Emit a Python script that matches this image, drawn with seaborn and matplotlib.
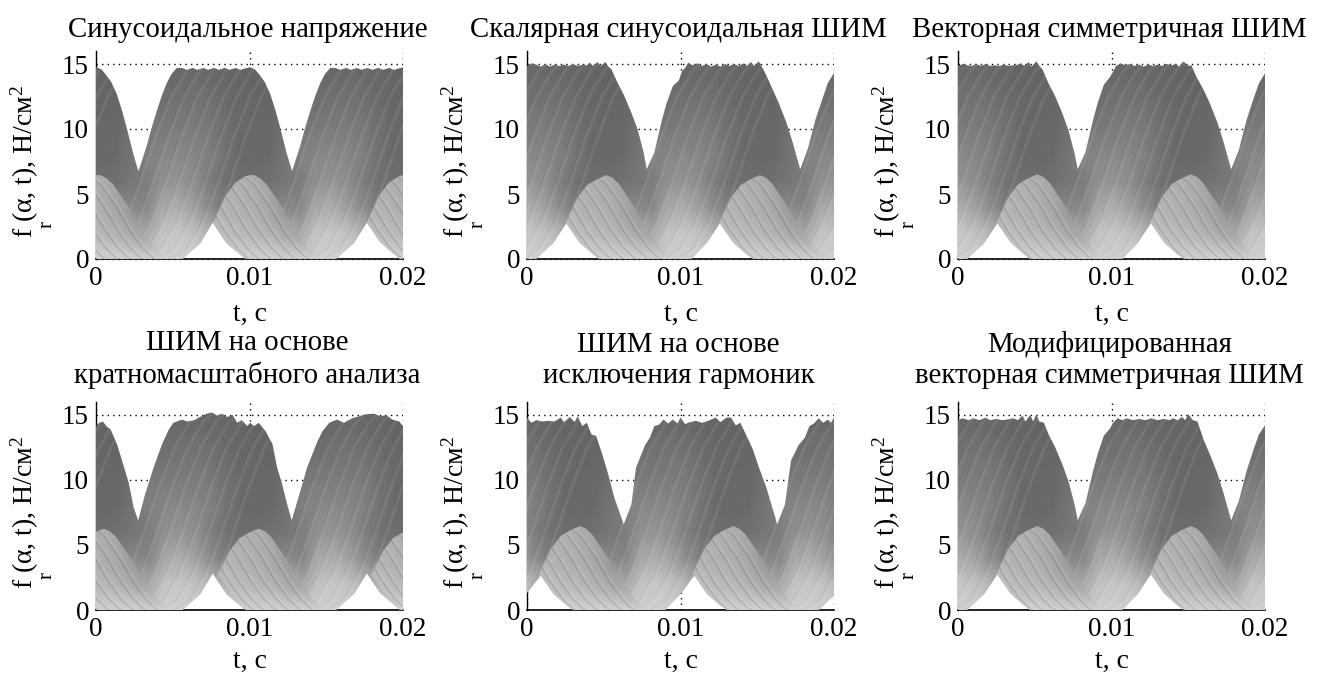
import matplotlib
matplotlib.use("Agg")
import matplotlib.pyplot as plt
from matplotlib.patches import Polygon
import numpy as np
import seaborn as sns

titles = [
    "Синусоидальное напряжение",
    "Скалярная синусоидальная ШИМ",
    "Векторная симметричная ШИМ",
    "ШИМ на основе\nкратномасштабного анализа",
    "ШИМ на основе\nисключения гармоник",
    "Модифицированная\nвекторная симметричная ШИМ",
]

# time axis is kept in ms, tick labels are in seconds
upper_t_1 = [0, .35, .7, 1, 1.35, 1.7, 2, 2.43, 2.76, 3, 3.3, 3.6, 3.96, 4.3, 4.6, 4.9, 5.26, 5.6, 5.9, 6.3, 6.6, 7, 7.3, 7.7, 8, 8.4, 8.7, 9.1, 9.4, 10,
             10.35, 10.7, 11, 11.35, 11.7, 12, 12.43, 12.78, 13, 13.3, 13.6, 13.96, 14.3, 14.6, 14.9, 15.26, 15.6, 15.9, 16.3, 16.6, 17, 17.3, 17.7, 18, 18.4, 18.7, 19.1, 19.4, 20]
upper_y_1 = [14.75, 14.6, 14.1, 13.6, 12.7, 11.4, 10.1, 8.1, 6.75, 7.6, 8.7, 10, 11.4, 12.6, 13.5, 14.2, 14.7, 14.7, 14.55, 14.7, 14.55, 14.7, 14.55, 14.7, 14.55, 14.7, 14.55, 14.7, 14.55, 14.75,
             14.6, 14.1, 13.6, 12.7, 11.4, 10.1, 8.1, 6.75, 7.6, 8.7, 10, 11.4, 12.6, 13.5, 14.2, 14.7, 14.7, 14.55, 14.7, 14.55, 14.7, 14.55, 14.7, 14.55, 14.7, 14.55, 14.7, 14.55, 14.75]

upper_t_2 = [0, .3, .6, .9, 1.2, 1.5, 1.8, 2.1, 2.4, 2.7, 3, 3.3, 3.6, 3.9, 4.1, 4.3, 4.6, 4.8, 5.1, 5.3, 5.5, 5.9, 6.3, 6.8, 7.2, 7.6, 7.8,
             8.3, 8.8, 9.1, 9.5, 9.9, 10.1, 10.3, 10.5, 10.8, 11.1, 11.4, 11.7, 12, 12.3, 12.6, 12.9, 13.2, 13.5, 13.8, 14.1, 14.3, 14.6, 14.8, 15.1, 15.3, 15.6,
             16, 16.4, 16.9, 17.3, 17.8, 18.3, 18.8, 19.3, 19.6, 20]
upper_y_2 = [14.85, 15.05, 14.95, 14.8, 15, 14.8, 14.95, 14.85, 14.95, 14.85, 15, 14.85, 14.95, 14.9, 15.1, 14.85, 15.15, 14.85, 15.15, 14.8, 14.6, 13.55, 12.65, 11.25, 10, 8.2, 6.9,
             8.2, 10.75, 12, 13.3, 13.75, 14.45, 14.7, 15.1, 14.9, 15.05, 14.85, 15, 14.8, 14.95, 14.8, 15, 14.85, 15, 14.85, 15.05, 14.85, 15.15, 14.85, 15.2, 14.8, 14.1,
             13.05, 12, 10.5, 9, 6.9, 8.5, 10.75, 12.5, 13.55, 14.3]

upper_t_3 = [0, .3, .6, .9, 1.2, 1.5, 1.8, 2.1, 2.4, 2.7, 3, 3.3, 3.6, 3.9, 4.1, 4.3, 4.6, 4.8, 5.1, 5.3, 5.5, 5.9, 6.3, 6.8, 7.2, 7.6, 7.8,
             8.3, 8.8, 9.1, 9.5, 9.9, 10.1, 10.3, 10.6, 10.9, 11.2, 11.5, 11.8, 12.1, 12.4, 12.7, 13, 13.3, 13.6, 13.9, 14.2, 14.4, 14.7, 15, 15.2, 15.5,
             16, 16.4, 16.9, 17.3, 17.8, 18.3, 18.8, 19.3, 19.6, 20]
upper_y_3 = [14.85, 15, 14.9, 14.85, 15, 14.85, 15, 14.85, 14.9, 14.85, 14.95, 14.85, 14.9, 14.95, 15.05, 14.85, 15.15, 14.8, 15.2, 14.85, 14.6, 13.5, 12.6, 11.2, 9.9, 8.1, 6.9,
             8.2, 10.7, 12, 13.4, 14, 14.4, 14.85, 15.05, 14.9, 15, 14.85, 14.95, 14.8, 14.95, 14.85, 14.95, 14.85, 15, 14.9, 15, 14.8, 15.2, 14.85, 14.9, 14.1,
             13, 12, 10.5, 9, 6.9, 8.4, 10.7, 12.5, 13.5, 14.3]

upper_t_4 = [0, .2, .45, .7, .95, 1.37, 1.8, 2.13, 2.45, 2.75, 3.2, 3.75, 4.3, 4.75, 5.05, 5.6, 5.95, 6.4, 6.7, 7.1, 7.55, 7.9, 8.2, 8.55, 8.9, 9.2, 9.5, 9.85, 10.05, 10.3, 10.6,
             11.05, 11.5, 11.8, 12.1, 12.45, 12.75, 13.3, 13.75, 14.4, 14.75, 15.2, 15.7, 16.15, 16.7, 17, 17.55, 18.1, 18.55, 18.9, 19.3, 19.75, 20]
upper_y_4 = [14.15, 14.4, 14.5, 14.1, 13.9, 12.75, 11.1, 9.8, 7.9, 6.9, 8.9, 10.95, 12.75, 13.9, 14.4, 14.65, 14.5, 14.6, 14.8, 15.05, 15.2, 14.95, 15.1, 14.85, 15, 14.4, 14.6, 14.15, 14.4, 14.15, 14.4,
             13.75, 12.75, 10.95, 9.8, 8.15, 6.9, 9.1, 10.95, 12.9, 13.75, 14.4, 14.65, 14.4, 14.75, 14.85, 15.05, 15.1, 14.9, 15, 14.65, 14.5, 14.15]

upper_t_5 = [0, .3, .6, 1, 1.4, 1.8, 2.2, 2.4, 2.8, 3.1, 3.3, 3.6, 3.9, 4.2, 4.5, 4.9, 5.3, 5.7, 6.3, 6.8, 7.1, 7.7, 8, 8.3, 8.6, 8.9, 9.2, 9.5, 9.8, 10, 10.3, 10.6,
             11, 11.4, 11.8, 12.3, 12.6, 13, 13.3, 13.6, 13.9, 14.3, 14.7, 15.1, 15.6, 16.3, 16.8, 17.2, 17.7, 18.1, 18.4, 18.7, 19, 19.3, 19.6, 19.8, 20]
upper_y_5 = [14.8, 14.4, 14.6, 14.5, 14.55, 14.5, 14.8, 14.45, 14.85, 14.45, 14.9, 14.15, 14.4, 13.5, 13.4, 12, 10.4, 8.6, 6.6, 8.1, 10.95, 12.7, 13.25, 14.15, 14.25, 14.65, 14.35, 14.65, 14.35, 14.8, 14.3, 14.45,
             14.55, 14.4, 14.55, 14.8, 14.45, 14.8, 14.8, 14.2, 14.4, 13.4, 12.4, 11, 9.4, 6.6, 8.1, 11.5, 12.7, 13.25, 14.15, 14.35, 14.75, 14.4, 14.65, 14.4, 14.8]

upper_t_6 = [0, .3, .7, 1, 1.4, 1.8, 2.1, 2.5, 2.9, 3.2, 3.6, 3.9, 4.2, 4.4, 4.7, 4.9, 5.1, 5.3, 5.6, 5.9, 6.3, 6.8, 7.2, 7.6, 7.8,
             8.3, 8.8, 9.1, 9.5, 9.9, 10.1, 10.4, 10.7, 11, 11.4, 11.8, 12.2, 12.6, 13, 13.4, 13.8, 14, 14.3, 14.6, 14.8, 15, 15.3, 15.6,
             16, 16.4, 16.9, 17.3, 17.8, 18.3, 18.8, 19.3, 19.6, 20]
upper_y_6 = [14.6, 14.75, 14.6, 14.75, 14.6, 14.8, 14.6, 14.7, 14.6, 14.65, 14.75, 14.6, 14.95, 14.5, 15, 14.5, 15.05, 14.5, 14.4, 13.5, 12.6, 11.2, 9.9, 8.1, 6.9,
             8.2, 10.7, 12, 13.4, 13.95, 14.4, 14.75, 14.6, 14.75, 14.6, 14.7, 14.6, 14.75, 14.6, 14.7, 14.6, 14.75, 14.6, 14.85, 14.6, 15.05, 14.6, 14.5,
             13.1, 12, 10.5, 9, 6.9, 8.4, 10.7, 12.5, 13.5, 14.2]

# lower edge of the surface (white triangles)
lower_t_a = [0, 5.65, 6.8, 7.6, 8.5, 9.6, 9.8, 15.65, 16.8, 17.65, 18.5, 19.8, 20]
lower_y_a = [0, 0, 1.2, 2.8, 1.2, .1, 0, 0, 1.2, 2.8, 1.3, 0, 0]
lower_t_b = [0, .6, 1.7, 2.57, 3.5, 4.6, 4.75, 10.7, 11.7, 12.57, 13.6, 14.7, 14.85, 20]
lower_y_b = [0, 0, 1.2, 2.75, 1.2, .1, 0, 0, 1.2, 2.75, 1.2, .1, 0, 0]
lower_t_c = [0, .95, 2, 3.1, 3.25, 9, 10, 10.95, 12, 13.1, 13.25, 19, 20]
lower_y_c = [1.3, 2.7, 1.2, .1, 0, 0, 1.2, 2.7, 1.2, .1, 0, 0, 1.1]

# light lobe outline, t relative to its peak
bump_t = [-2.65, -1.9, -1.25, -.6, -.3, 0, .4, .8, 1.8, 2.67, 3.54, 4.2, 4.4, -.45, -.9, -1.75]
bump_y_smooth = [2.8, 4.8, 5.85, 6.35, 6.45, 6.45, 6.2, 5.75, 4.05, 2.25, .85, .1, 0, 0, .35, 1.25]
bump_y_rough = [2.8, 4.7, 5.7, 6.15, 6.3, 6.45, 6.25, 5.8, 4.05, 2.25, .85, .1, 0, 0, .35, 1.25]

bump_peaks = [[.3, 10.3, 20.3], [-4.83, 5.17, 15.17], [-4.83, 5.17, 15.17],
              [.5, 10.6, 20.6], [3.45, 13.45], [-4.83, 5.17, 15.17]]
bump_peak_scale = [1, 1, 1.01, .97, 1, 1]

uppers = [(upper_t_1, upper_y_1), (upper_t_2, upper_y_2), (upper_t_3, upper_y_3),
          (upper_t_4, upper_y_4), (upper_t_5, upper_y_5), (upper_t_6, upper_y_6)]
lowers = [(lower_t_a, lower_y_a), (lower_t_b, lower_y_b), (lower_t_b, lower_y_b),
          (lower_t_a, lower_y_a), (lower_t_c, lower_y_c), (lower_t_b, lower_y_b)]

# grey levels: column = ms after the lobe peak, row = force level
grey_main = [
    [208, 208, 208, 208, 208, 208, 208, 208, 208, 208],
    [178, 178, 172, 168, 194, 198, 192, 180, 176, 176],
    [128, 132, 136, 134, 168, 172, 160, 140, 126, 120],
    [110, 112, 118, 125, 144, 148, 142, 126, 114, 110],
    [104, 106, 116, 128, 134, 136, 134, 128, 116, 106],
    [104, 104, 113, 122, 122, 124, 124, 122, 113, 106],
    [103, 103, 107, 111, 112, 114, 116, 113, 108, 103],
    [100, 100, 103, 103, 105, 105, 107, 105, 103, 101],
    [100, 100, 100, 100, 100, 100, 100, 100, 100, 100],
]
grey_lobe = [
    [208, 208, 208, 208, 208, 208, 208, 208, 208],
    [192, 190, 187, 184, 180, 172, 168, 168, 168],
    [182, 180, 177, 174, 167, 154, 144, 137, 137],
    [176, 176, 176, 173, 166, 152, 142, 132, 132],
    [176, 176, 176, 173, 166, 152, 142, 132, 132],
]

# stripe on the rising and on the falling flank, t relative to its start
rise_t = [0, 1, 2, 3, 4, 5, 6, 7]
rise_y = [0, .7, 2.8, 6, 9.5, 12.5, 14.5, 15.6]
fall_t = [0, .8, 1.8, 2.67, 3.54, 4.2, 4.4]
fall_y = [6.45, 5.75, 4.05, 2.25, .85, .1, 0]
rise_starts = [-10.4, -9.55, -8.7, -7.85, -7, -6.15, -5.3, -4.55]
fall_starts = [-.8, -1.6, -2.4, -3.2, -4, -4.65]

xticks = [0, 10, 20]
xticklabels = ["0", "0.01", "0.02"]
yticks = [0, 5, 10, 15]
# left edge of each panel in pixels
panel_left = [96, 527, 958, 96, 527, 958]
panel_bottom = [259, 259, 259, 610, 610, 610]
title_pad = [10, 10, 10, 14, 14, 14]
xlabel_pad = [8, 8, 8, 5, 5, 5]

sns.set_theme(style="white")
plt.rcParams["font.family"] = ["Liberation Serif"]
plt.rcParams["mathtext.fontset"] = "custom"
plt.rcParams["mathtext.rm"] = "Liberation Serif"
plt.rcParams["mathtext.default"] = "rm"

W, H = 1322, 677
fig = plt.figure(figsize=(W / 100, H / 100), dpi=100, facecolor="white")
ylabel = "f (α, t), Н/см$^{2}$"


def flank(ax, t, y, color, alpha, lw, clip):
    sns.lineplot(x=t, y=y, color=color, alpha=alpha, lw=lw, sort=False,
                 estimator=None, legend=False, ax=ax, zorder=3)
    ax.lines[-1].set_clip_path(clip)


for i, title in enumerate(titles):
    ax = fig.add_axes([panel_left[i] / W, 1 - panel_bottom[i] / H, 307 / W, 208 / H])
    ax.set_xlim(0, 20)
    ax.set_ylim(0, 16)

    # surface outline
    ut, uy = uppers[i]
    lt, ly = lowers[i]
    outline = list(zip(ut, uy)) + list(zip(lt, ly))[::-1]
    body = Polygon(outline, closed=True, transform=ax.transData, fc="none", ec="none")
    ax.add_patch(body)

    peaks = bump_peaks[i]
    main = np.tile(np.array(grey_main), (1, 4))
    im = ax.imshow(main, cmap="gray", vmin=0, vmax=255, origin="lower", aspect="auto",
                   interpolation="bilinear", zorder=2,
                   extent=[peaks[0] - 10.5, peaks[0] + 29.5, -1, 17])
    im.set_clip_path(body)

    for s in rise_starts:
        for p in [-10, 0, 10, 20, 30]:
            t0 = np.array(rise_t) + peaks[0] + s + p
            flank(ax, t0, rise_y, "white", .07, 2.6, body)
            flank(ax, t0 - .14, rise_y, "black", .035, 1.6, body)

    # light lobes lie over the dark surface
    heights = bump_y_smooth if i == 0 else bump_y_rough
    for p in peaks:
        pts = [(p + a, b * bump_peak_scale[i]) for a, b in zip(bump_t, heights)]
        lobe = Polygon(pts, closed=True, transform=ax.transData, fc="none", ec="none", zorder=4)
        ax.add_patch(lobe)
        im2 = ax.imshow(np.array(grey_lobe), cmap="gray", vmin=0, vmax=255, origin="lower",
                        aspect="auto", interpolation="bilinear", zorder=4,
                        extent=[p - 3.5, p + 5.5, -.9, 7.9])
        im2.set_clip_path(lobe)
        for s in fall_starts:
            t0 = np.array(fall_t) + p + s
            flank(ax, t0, fall_y, "black", .1, 1.3, lobe)
            flank(ax, t0 + .14, fall_y, "white", .09, 2, lobe)
            ax.lines[-1].set_zorder(5)
            ax.lines[-2].set_zorder(5)

    ax.set_xlim(0, 20)
    ax.set_ylim(0, 16)

    ax.set_axisbelow(True)
    ax.grid(True, color="black", ls=(0, (1, 3)), lw=1)
    if i < 3:
        ax.axhline(0, color="#222222", ls=(0, (1, 3)), lw=1, zorder=6, clip_on=False)
    ax.spines["top"].set_visible(False)
    ax.spines["right"].set_visible(False)
    ax.spines["left"].set_color("black")
    ax.spines["bottom"].set_color("black")
    ax.spines["left"].set_linewidth(1)
    ax.spines["bottom"].set_linewidth(1.2)
    ax.spines["left"].set_zorder(1)
    ax.spines["bottom"].set_zorder(1)

    ax.set_xticks(xticks, xticklabels)
    ax.set_yticks(yticks)
    ax.tick_params(length=0, labelsize=19.5, pad=5, labelcolor="black")
    ax.set_xlabel("t, c", fontsize=20, labelpad=xlabel_pad[i], color="black")
    ax.set_ylabel(ylabel, fontsize=20, color="black", loc="bottom")
    ax.yaxis.set_label_coords(-.178, 21 / 208)
    ax.annotate("r", xy=(0, 0), xycoords="axes fraction", xytext=(-35, 25),
                textcoords="offset points", rotation=90, fontsize=15, color="black",
                ha="center", va="center", annotation_clip=False)
    ax.set_title(title, fontsize=20.8, pad=title_pad[i], color="black", linespacing=1.25, x=.494)

fig.savefig("out.png", dpi=100, facecolor="white")
